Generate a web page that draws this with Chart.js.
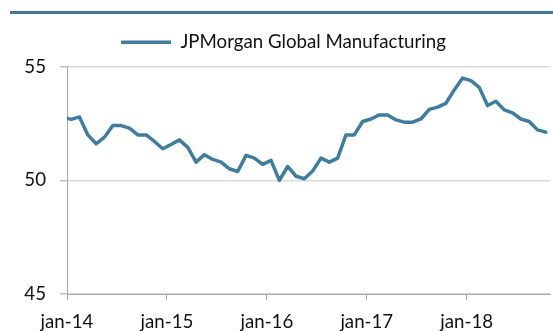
<!DOCTYPE html>
<html>
<head>
<meta charset="utf-8">
<script src="https://cdn.jsdelivr.net/npm/chart.js@4"></script>
<style>
  html, body { margin: 0; padding: 0; background: #fff; }
  #wrap { position: relative; width: 553px; height: 331px; }
  #rule { position: absolute; left: 10px; top: 11px; width: 543px; height: 3px; background: #3f7a9c; }
  canvas { position: absolute; left: 0; top: 0; }
</style>
</head>
<body>
<div id="wrap">
  <canvas id="c" width="553" height="331"></canvas>
  <div id="rule"></div>
</div>
<script>
  // monthly PMI, dec-13 .. oct-18 (points sit mid-month on a date axis)
  const SERIES_NAME = 'JPMorgan Global Manufacturing';
  const MONTHS = [
    'dec-13',
    'jan-14','feb-14','mar-14','apr-14','may-14','jun-14','jul-14','aug-14','sep-14','oct-14','nov-14','dec-14',
    'jan-15','feb-15','mar-15','apr-15','may-15','jun-15','jul-15','aug-15','sep-15','oct-15','nov-15','dec-15',
    'jan-16','feb-16','mar-16','apr-16','may-16','jun-16','jul-16','aug-16','sep-16','oct-16','nov-16','dec-16',
    'jan-17','feb-17','mar-17','apr-17','may-17','jun-17','jul-17','aug-17','sep-17','oct-17','nov-17','dec-17',
    'jan-18','feb-18','mar-18','apr-18','may-18','jun-18','jul-18','aug-18','sep-18','oct-18'
  ];
  const PMI = [
    52.78,
    52.68, 52.79, 52.0, 51.61, 51.9, 52.41, 52.41, 52.3, 52.0, 52.0, 51.71, 51.39,
    51.58, 51.78, 51.45, 50.8, 51.13, 50.92, 50.8, 50.51, 50.39, 51.1, 50.98, 50.7,
    50.88, 50.0, 50.61, 50.18, 50.07, 50.41, 50.98, 50.8, 50.98, 52.0, 52.0, 52.59,
    52.7, 52.88, 52.88, 52.66, 52.56, 52.56, 52.7, 53.12, 53.22, 53.39, 53.98, 54.5,
    54.39, 54.09, 53.29, 53.48, 53.1, 52.97, 52.7, 52.59, 52.22, 52.12
  ];
  const X_TICK_LABELS = ['jan-14', 'jan-15', 'jan-16', 'jan-17', 'jan-18'];
  const Y_TICKS = [45, 50, 55];

  const LINE = '#3f7d9f';
  const FONT = 'Lato, "Open Sans", sans-serif';
  const FS = 18.7;

  // month offset from jan-14 (mid-month position)
  const xPos = (i) => i - 0.5;
  const points = PMI.map((v, i) => ({ x: xPos(i), y: v }));

  new Chart(document.getElementById('c'), {
    type: 'line',
    data: {
      datasets: [{
        label: SERIES_NAME,
        data: points,
        borderColor: LINE,
        backgroundColor: LINE,
        borderWidth: 3.5,
        borderJoinStyle: 'round',
        borderCapStyle: 'round',
        pointRadius: 0,
        tension: 0,
        clip: { left: 0, right: 5, top: 5, bottom: 5 }
      }]
    },
    options: {
      responsive: false,
      animation: false,
      events: [],
      layout: { padding: { top: 13, left: 17, right: 3, bottom: 0 } },
      plugins: {
        tooltip: { enabled: false },
        // empty spacer between legend and plot area
        title: { display: true, text: '', position: 'top', weight: 500, padding: 0, font: { size: 5, lineHeight: 1 } },
        legend: {
          position: 'top',
          labels: {
            usePointStyle: true,
            pointStyle: 'line',
            pointStyleWidth: 50,
            padding: 20,
            color: '#111',
            font: { family: FONT, size: FS }
          }
        }
      },
      scales: {
        x: {
          type: 'linear',
          min: 0,
          max: 58,
          afterBuildTicks: (s) => { s.ticks = X_TICK_LABELS.map((_, i) => ({ value: i * 12 })); },
          afterFit: (s) => { s.height = 37; },
          border: { color: '#a6a6a6', width: 1 },
          grid: { drawOnChartArea: false, drawTicks: true, tickLength: 6, color: '#a6a6a6' },
          ticks: {
            padding: 11,
            maxRotation: 0,
            autoSkip: false,
            color: '#111',
            font: { family: FONT, size: FS },
            callback: (v) => X_TICK_LABELS[v / 12]
          }
        },
        y: {
          min: 45,
          max: 55,
          afterBuildTicks: (s) => { s.ticks = Y_TICKS.map(v => ({ value: v })); },
          afterFit: (s) => { s.width = 50; },
          border: { color: '#a6a6a6', width: 1 },
          grid: { color: '#d9d9d9', lineWidth: 1.5, tickLength: 7, tickColor: '#bfbfbf' },
          ticks: {
            padding: 14,
            color: '#111',
            font: { family: FONT, size: FS }
          }
        }
      }
    }
  });
</script>
</body>
</html>
